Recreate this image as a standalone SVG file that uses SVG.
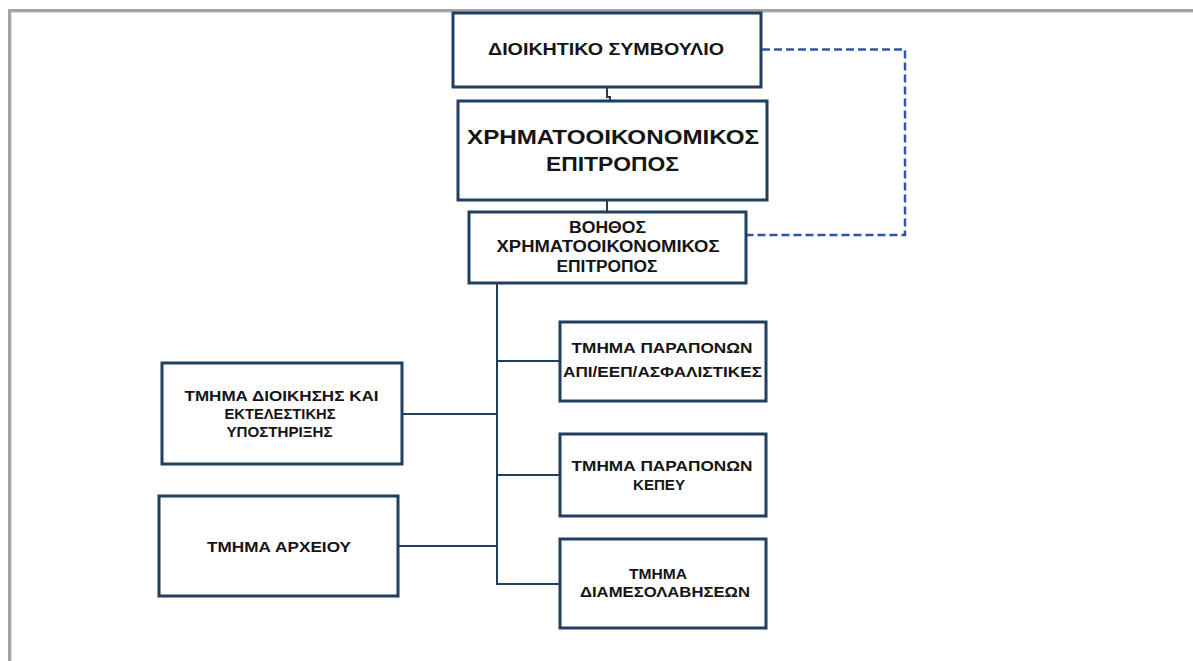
<svg xmlns="http://www.w3.org/2000/svg" width="1193" height="661" viewBox="0 0 1193 661">
<style>
.box{fill:#ffffff;stroke:#1f3f5f;stroke-width:3}
.t{font-family:"Liberation Sans",Arial,sans-serif;font-weight:700;fill:#151515;text-anchor:middle}
.s{font-size:15px}
.ln{fill:none;stroke:#1f3f5f;stroke-width:2}
.dash{fill:none;stroke:#2f56a3;stroke-width:2.5;stroke-dasharray:8 4}
</style>
<rect x="0" y="0" width="1193" height="661" fill="#ffffff"/>
<path d="M9.5 661 V10.5 H1193" fill="none" stroke="#a4a4a4" stroke-width="3"/>
<path d="M11.5 661 V12.5 H1193" fill="none" stroke="#c9dcee" stroke-width="0.8"/>
<g id="connectors">
<path class="ln" d="M607 87 V97 H610 V101"/>
<path class="ln" d="M607 200 V212"/>
<path class="ln" d="M497 283 V584 H560"/>
<path class="ln" d="M497 361 H560"/>
<path class="ln" d="M497 475 H560"/>
<path class="ln" d="M402 414 H497"/>
<path class="ln" d="M398 546 H497"/>
<path class="dash" d="M762 49.5 H905 V235 H746"/>
</g>
<g id="n1"><rect class="box" x="453" y="13" width="308" height="74"/>
<text class="t" x="606" y="55" font-size="17" textLength="236" lengthAdjust="spacingAndGlyphs">ΔΙΟΙΚΗΤΙΚΟ ΣΥΜΒΟΥΛΙΟ</text></g>
<g id="n2"><rect class="box" x="458" y="101" width="309" height="99"/>
<text class="t" x="613" y="144" font-size="20" textLength="292" lengthAdjust="spacingAndGlyphs">ΧΡΗΜΑΤΟΟΙΚΟΝΟΜΙΚΟΣ</text>
<text class="t" x="612.5" y="170.5" font-size="20" textLength="133" lengthAdjust="spacingAndGlyphs">ΕΠΙΤΡΟΠΟΣ</text></g>
<g id="n3"><rect class="box" x="469" y="212" width="277" height="71"/>
<text class="t" x="607.5" y="233" font-size="16" textLength="77" lengthAdjust="spacingAndGlyphs">ΒΟΗΘΟΣ</text>
<text class="t" x="608" y="252" font-size="16" textLength="223" lengthAdjust="spacingAndGlyphs">ΧΡΗΜΑΤΟΟΙΚΟΝΟΜΙΚΟΣ</text>
<text class="t" x="607" y="272" font-size="16" textLength="101" lengthAdjust="spacingAndGlyphs">ΕΠΙΤΡΟΠΟΣ</text></g>
<g id="n4"><rect class="box" x="560" y="322" width="206" height="79"/>
<text class="t s" x="662" y="353" textLength="181" lengthAdjust="spacingAndGlyphs">ΤΜΗΜΑ ΠΑΡΑΠΟΝΩΝ</text>
<text class="t s" x="662.5" y="377" textLength="199" lengthAdjust="spacingAndGlyphs">ΑΠΙ/ΕΕΠ/ΑΣΦΑΛΙΣΤΙΚΕΣ</text></g>
<g id="n5"><rect class="box" x="560" y="434" width="206" height="82"/>
<text class="t s" x="662" y="471" textLength="181" lengthAdjust="spacingAndGlyphs">ΤΜΗΜΑ ΠΑΡΑΠΟΝΩΝ</text>
<text class="t s" x="659" y="490" textLength="52" lengthAdjust="spacingAndGlyphs">ΚΕΠΕΥ</text></g>
<g id="n6"><rect class="box" x="560" y="539" width="206" height="89"/>
<text class="t s" x="658" y="579" textLength="58" lengthAdjust="spacingAndGlyphs">ΤΜΗΜΑ</text>
<text class="t s" x="665" y="597" textLength="170" lengthAdjust="spacingAndGlyphs">ΔΙΑΜΕΣΟΛΑΒΗΣΕΩΝ</text></g>
<g id="n7"><rect class="box" x="162" y="363" width="240" height="101"/>
<text class="t s" x="281.5" y="401" textLength="194" lengthAdjust="spacingAndGlyphs">ΤΜΗΜΑ ΔΙΟΙΚΗΣΗΣ ΚΑΙ</text>
<text class="t s" x="280" y="419" textLength="111" lengthAdjust="spacingAndGlyphs">ΕΚΤΕΛΕΣΤΙΚΗΣ</text>
<text class="t s" x="279.5" y="437" textLength="106" lengthAdjust="spacingAndGlyphs">ΥΠΟΣΤΗΡΙΞΗΣ</text></g>
<g id="n8"><rect class="box" x="159" y="496" width="239" height="100"/>
<text class="t s" x="279" y="551.5" textLength="144" lengthAdjust="spacingAndGlyphs">ΤΜΗΜΑ ΑΡΧΕΙΟΥ</text></g>
</svg>
